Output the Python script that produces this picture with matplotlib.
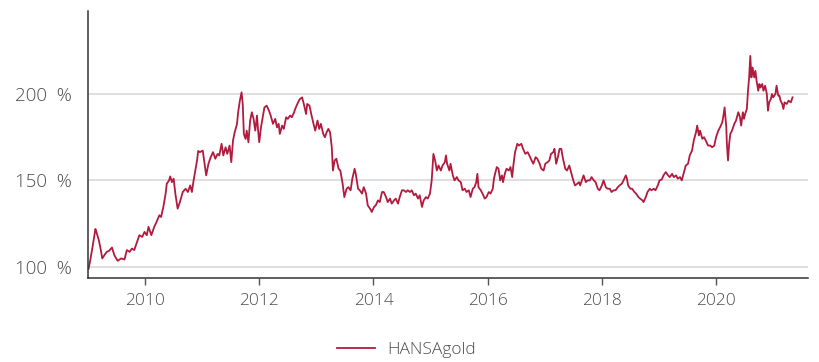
import matplotlib.pyplot as plt
from matplotlib.ticker import FuncFormatter

plt.rcParams['font.family'] = ['Open Sans', 'DejaVu Sans']
plt.rcParams['font.weight'] = 300

# HANSAgold performance, indexed (start = 100 %)
years = [
    2009.01, 2009.04, 2009.08, 2009.13, 2009.15, 2009.19, 2009.22, 2009.25, 2009.29, 2009.33,
    2009.37, 2009.42, 2009.46, 2009.52, 2009.58, 2009.64, 2009.68, 2009.73, 2009.77, 2009.81,
    2009.85, 2009.90, 2009.95, 2009.99, 2010.03, 2010.06, 2010.11, 2010.16, 2010.20, 2010.25,
    2010.28, 2010.32, 2010.36, 2010.38, 2010.42, 2010.44, 2010.47, 2010.50, 2010.53, 2010.57,
    2010.61, 2010.66, 2010.71, 2010.75, 2010.79, 2010.82, 2010.85, 2010.87, 2010.91, 2010.93,
    2010.96, 2011.01, 2011.05, 2011.07, 2011.11, 2011.15, 2011.19, 2011.23, 2011.27, 2011.30,
    2011.34, 2011.37, 2011.41, 2011.44, 2011.48, 2011.51, 2011.54, 2011.57, 2011.61, 2011.63,
    2011.66, 2011.69, 2011.71, 2011.73, 2011.76, 2011.78, 2011.81, 2011.84, 2011.87, 2011.90,
    2011.93, 2011.96, 2011.98, 2012.00, 2012.03, 2012.06, 2012.09, 2012.13, 2012.17, 2012.20,
    2012.24, 2012.28, 2012.31, 2012.34, 2012.36, 2012.40, 2012.43, 2012.47, 2012.50, 2012.54,
    2012.57, 2012.61, 2012.64, 2012.68, 2012.71, 2012.75, 2012.78, 2012.82, 2012.84, 2012.88,
    2012.91, 2012.95, 2012.98, 2013.02, 2013.05, 2013.08, 2013.12, 2013.15, 2013.18, 2013.21,
    2013.24, 2013.27, 2013.29, 2013.32, 2013.35, 2013.39, 2013.42, 2013.46, 2013.49, 2013.53,
    2013.56, 2013.60, 2013.63, 2013.67, 2013.69, 2013.73, 2013.76, 2013.80, 2013.83, 2013.87,
    2013.90, 2013.94, 2013.97, 2014.01, 2014.04, 2014.08, 2014.11, 2014.15, 2014.18, 2014.22,
    2014.25, 2014.29, 2014.32, 2014.36, 2014.39, 2014.43, 2014.46, 2014.50, 2014.53, 2014.57,
    2014.60, 2014.64, 2014.67, 2014.71, 2014.74, 2014.78, 2014.81, 2014.85, 2014.88, 2014.92,
    2014.95, 2014.99, 2015.02, 2015.05, 2015.08, 2015.11, 2015.14, 2015.18, 2015.21, 2015.25,
    2015.27, 2015.29, 2015.33, 2015.35, 2015.39, 2015.42, 2015.46, 2015.49, 2015.53, 2015.56,
    2015.60, 2015.63, 2015.67, 2015.70, 2015.74, 2015.77, 2015.80, 2015.82, 2015.84, 2015.88,
    2015.91, 2015.95, 2015.98, 2016.02, 2016.05, 2016.09, 2016.11, 2016.13, 2016.16, 2016.19,
    2016.22, 2016.25, 2016.27, 2016.30, 2016.33, 2016.37, 2016.40, 2016.43, 2016.45, 2016.48,
    2016.52, 2016.55, 2016.59, 2016.62, 2016.66, 2016.70, 2016.73, 2016.77, 2016.80, 2016.84,
    2016.87, 2016.91, 2016.94, 2016.98, 2017.01, 2017.05, 2017.08, 2017.11, 2017.15, 2017.17,
    2017.20, 2017.23, 2017.26, 2017.29, 2017.32, 2017.36, 2017.39, 2017.43, 2017.46, 2017.50,
    2017.53, 2017.57, 2017.60, 2017.62, 2017.66, 2017.68, 2017.72, 2017.75, 2017.79, 2017.82,
    2017.86, 2017.89, 2017.93, 2017.96, 2018.00, 2018.03, 2018.07, 2018.10, 2018.14, 2018.17,
    2018.21, 2018.24, 2018.28, 2018.31, 2018.35, 2018.38, 2018.42, 2018.44, 2018.46, 2018.50,
    2018.53, 2018.57, 2018.60, 2018.64, 2018.67, 2018.71, 2018.73, 2018.77, 2018.80, 2018.84,
    2018.87, 2018.91, 2018.94, 2018.98, 2019.01, 2019.05, 2019.08, 2019.12, 2019.16, 2019.19,
    2019.23, 2019.26, 2019.30, 2019.33, 2019.37, 2019.40, 2019.44, 2019.47, 2019.51, 2019.54,
    2019.58, 2019.61, 2019.65, 2019.67, 2019.70, 2019.72, 2019.76, 2019.79, 2019.82, 2019.86,
    2019.90, 2019.93, 2019.97, 2020.00, 2020.04, 2020.07, 2020.11, 2020.13, 2020.15, 2020.18,
    2020.19, 2020.21, 2020.23, 2020.25, 2020.28, 2020.32, 2020.35, 2020.39, 2020.42, 2020.44,
    2020.47, 2020.49, 2020.51, 2020.54, 2020.56, 2020.58, 2020.60, 2020.62, 2020.64, 2020.67,
    2020.69, 2020.71, 2020.74, 2020.76, 2020.78, 2020.81, 2020.83, 2020.86, 2020.89, 2020.91,
    2020.93, 2020.96, 2020.98, 2021.00, 2021.04, 2021.06, 2021.09, 2021.11, 2021.13, 2021.16,
    2021.18, 2021.20, 2021.24, 2021.27, 2021.31, 2021.34,
]
values = [
    99.0, 104.0, 111.7, 122.0, 120.0, 115.5, 110.7, 105.0, 107.0, 108.8,
    109.4, 111.3, 107.0, 103.6, 105.0, 104.4, 109.8, 108.8, 110.7, 109.8,
    113.6, 118.4, 117.4, 120.3, 118.4, 123.2, 118.4, 123.2, 126.0, 129.9,
    128.9, 134.7, 142.4, 148.1, 150.0, 152.3, 149.0, 151.0, 142.4, 133.7,
    137.5, 143.3, 145.2, 143.3, 147.1, 143.3, 150.0, 153.8, 161.5, 167.0,
    166.3, 167.2, 157.7, 152.9, 159.6, 163.4, 166.3, 162.5, 165.3, 164.4,
    171.1, 164.4, 169.1, 165.3, 170.1, 160.5, 173.0, 177.8, 182.6, 189.3,
    196.0, 200.8, 194.1, 176.8, 173.9, 178.7, 172.0, 184.5, 189.3, 185.5,
    178.7, 187.4, 178.7, 172.0, 180.6, 186.4, 192.1, 193.1, 190.2, 187.4,
    182.6, 185.5, 180.6, 182.6, 176.8, 181.6, 179.7, 186.4, 185.5, 187.4,
    186.4, 189.3, 192.1, 195.0, 196.9, 197.9, 194.1, 188.3, 194.1, 193.1,
    188.3, 182.6, 178.7, 184.5, 179.7, 182.6, 176.8, 174.9, 177.8, 179.7,
    177.8, 169.1, 155.7, 161.5, 162.5, 156.7, 155.7, 148.1, 140.4, 145.2,
    146.1, 144.3, 151.0, 156.7, 153.8, 145.2, 144.3, 142.4, 146.1, 142.4,
    135.6, 133.7, 131.8, 134.7, 135.6, 138.5, 137.5, 143.3, 143.3, 140.4,
    137.5, 139.5, 136.6, 138.5, 139.5, 136.6, 140.4, 144.3, 144.3, 143.3,
    144.3, 143.3, 144.3, 141.4, 142.4, 139.5, 141.4, 134.7, 138.5, 140.4,
    139.5, 142.4, 150.0, 165.3, 161.5, 155.7, 158.6, 155.7, 158.6, 160.5,
    164.4, 159.6, 155.7, 159.6, 152.9, 150.0, 151.9, 150.0, 149.0, 144.3,
    145.2, 143.3, 144.3, 140.4, 145.2, 146.1, 149.0, 153.8, 146.1, 144.3,
    142.4, 139.5, 140.4, 143.3, 142.4, 145.2, 151.0, 153.8, 157.7, 156.7,
    150.0, 152.9, 149.0, 153.8, 156.7, 155.7, 157.7, 151.9, 158.6, 166.3,
    171.1, 170.1, 171.1, 168.2, 165.3, 166.3, 164.4, 161.5, 159.6, 163.4,
    162.5, 159.6, 156.7, 155.7, 159.6, 160.5, 161.5, 165.3, 166.3, 168.2,
    159.6, 163.4, 168.2, 168.2, 162.5, 156.7, 155.7, 158.6, 154.8, 150.0,
    147.1, 148.1, 149.0, 147.1, 151.0, 152.9, 149.0, 150.0, 150.0, 151.9,
    150.0, 149.0, 145.2, 144.3, 147.1, 150.0, 146.1, 145.2, 145.2, 143.3,
    144.3, 144.3, 146.1, 147.1, 148.1, 150.0, 152.9, 151.0, 147.1, 145.2,
    145.2, 143.3, 142.4, 140.4, 139.5, 138.5, 137.5, 140.4, 143.3, 145.2,
    144.3, 145.2, 144.3, 147.1, 150.0, 150.5, 152.9, 154.8, 152.9, 151.9,
    153.8, 151.9, 152.9, 151.0, 151.9, 150.0, 154.8, 158.6, 159.6, 164.4,
    167.2, 173.0, 177.8, 181.6, 175.9, 178.7, 174.0, 174.9, 173.0, 170.1,
    170.1, 169.1, 170.1, 174.9, 178.7, 180.6, 183.5, 187.4, 192.1, 180.6,
    171.1, 161.5, 171.1, 176.8, 178.7, 182.6, 184.5, 189.3, 186.4, 181.6,
    189.3, 185.5, 188.3, 191.2, 201.7, 209.4, 221.8, 209.4, 215.1, 209.4,
    213.2, 207.5, 201.7, 205.6, 203.6, 205.6, 201.7, 204.6, 199.8, 190.2,
    195.0, 196.9, 199.8, 197.9, 199.8, 204.6, 198.9, 198.9, 196.0, 194.1,
    191.2, 195.0, 194.1, 196.0, 195.0, 197.9,
]

y_ticks = [100, 150, 200]
x_ticks = [2010, 2012, 2014, 2016, 2018, 2020]

line_color = '#b21a3e'
text_color = '#4d4d4d'

fig = plt.figure(figsize=(8.2, 3.62), dpi=100)
ax = fig.add_axes([0.1073, 0.232, 0.878, 0.7376])

ax.plot(years, values, color=line_color, linewidth=1.3, label='HANSAgold')

ax.set_xlim(2009.0, 2021.61)
ax.set_ylim(93.7, 247.7)

ax.set_yticks(y_ticks)
ax.yaxis.set_major_formatter(FuncFormatter(lambda v, pos: f'{v:.0f}  %'))
ax.set_xticks(x_ticks)

ax.grid(axis='y', color='#dcdcdc', linewidth=1.3)
ax.set_axisbelow(True)

for side in ('top', 'right'):
    ax.spines[side].set_visible(False)
for side in ('left', 'bottom'):
    ax.spines[side].set_color('#333333')
    ax.spines[side].set_linewidth(1.1)

ax.tick_params(axis='y', length=0, pad=11.5, labelsize=13.5, labelcolor=text_color)
ax.tick_params(axis='x', length=5, width=1, color='#555555', pad=6,
               labelsize=12.5, labelcolor=text_color)

fig.legend(loc='center', bbox_to_anchor=(0.496, 0.033), frameon=False,
           fontsize=12.5, labelcolor=text_color, handlelength=2.2,
           handletextpad=0.7)

fig.savefig('out.png', dpi=100)
